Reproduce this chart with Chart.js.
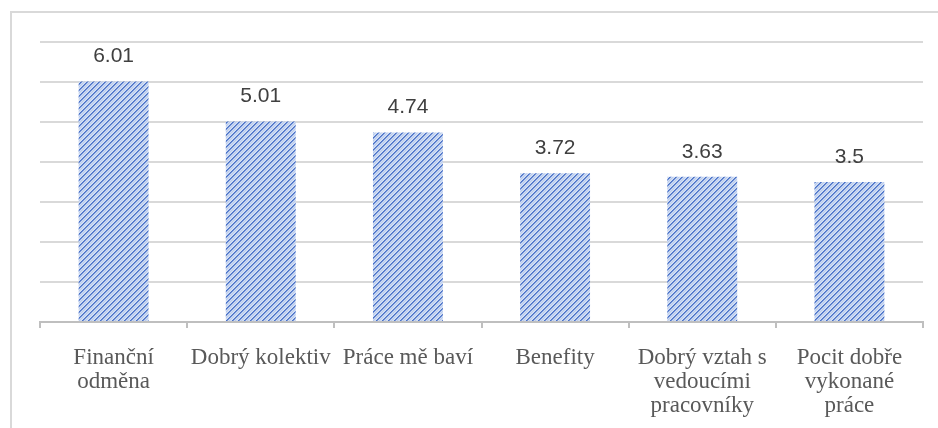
<!DOCTYPE html>
<html>
<head>
<meta charset="utf-8">
<script src="https://cdn.jsdelivr.net/npm/chart.js@4/dist/chart.umd.min.js"></script>
<style>
  html, body { margin: 0; padding: 0; background: #ffffff; }
  #wrap { position: relative; width: 938px; height: 428px; overflow: hidden; }
  #frame { position: absolute; left: 10px; top: 11px; width: 1000px; height: 1000px;
           border-left: 2px solid #d9d9d9; border-top: 2px solid #d9d9d9; box-sizing: border-box; }
  canvas { position: absolute; left: 0; top: 0; }
</style>
</head>
<body>
<div id="wrap">
  <div id="frame"></div>
  <canvas id="c" width="938" height="428"></canvas>
</div>
<script>
const categories = [
  ["Finanční", "odměna"],
  ["Dobrý kolektiv"],
  ["Práce mě baví"],
  ["Benefity"],
  ["Dobrý vztah s", "vedoucími", "pracovníky"],
  ["Pocit dobře", "vykonané", "práce"]
];
const values = [6.01, 5.01, 4.74, 3.72, 3.63, 3.5];
const valueLabels = ["6.01", "5.01", "4.74", "3.72", "3.63", "3.5"];
const yMax = 7;
const yStep = 1;

function makePattern() {
  const n = 6;
  const t = document.createElement('canvas');
  t.width = n; t.height = n;
  const g = t.getContext('2d');
  g.fillStyle = '#d0dcf2';
  g.fillRect(0, 0, n, n);
  for (let y = 0; y < n; y++) {
    for (let x = 0; x < n; x++) {
      const k = (x + y) % n;
      if (k === 0) { g.fillStyle = '#4a72c8'; g.fillRect(x, y, 1, 1); }
      else if (k === 1) { g.fillStyle = '#7595d8'; g.fillRect(x, y, 1, 1); }
      else if (k === 3) { g.fillStyle = '#b8cbee'; g.fillRect(x, y, 1, 1); }
    }
  }
  return document.getElementById('c').getContext('2d').createPattern(t, 'repeat');
}

const labelPlugin = {
  id: 'valueLabels',
  afterDatasetsDraw(chart) {
    const ctx = chart.ctx;
    const meta = chart.getDatasetMeta(0);
    ctx.save();
    ctx.font = '21px "Liberation Sans", Arial, sans-serif';
    ctx.fillStyle = '#404040';
    ctx.textAlign = 'center';
    ctx.textBaseline = 'middle';
    meta.data.forEach((bar, i) => {
      ctx.fillText(valueLabels[i], bar.x, bar.y - 25);
    });
    ctx.restore();
  }
};

new Chart(document.getElementById('c'), {
  type: 'bar',
  data: {
    labels: categories,
    datasets: [{
      data: values,
      backgroundColor: makePattern(),
      borderWidth: 0,
      barPercentage: 0.95,
      categoryPercentage: 0.5
    }]
  },
  options: {
    responsive: false,
    animation: false,
    events: [],
    layout: { padding: { left: 40, right: 15, top: 42, bottom: 0 } },
    plugins: { legend: { display: false }, tooltip: { enabled: false } },
    scales: {
      x: {
        grid: { display: true, offset: true, drawOnChartArea: false, drawTicks: true,
                tickLength: 6, color: '#bfbfbf', lineWidth: 2 },
        border: { display: true, color: '#bfbfbf', width: 2 },
        ticks: { color: '#595959', padding: 18, maxRotation: 0, autoSkip: false,
                 font: { family: '"Liberation Serif", "Times New Roman", serif', size: 23, lineHeight: 1.04 } },
        afterFit(scale) { scale.height = 106; }
      },
      y: {
        min: 0, max: yMax,
        ticks: { display: false, stepSize: yStep },
        grid: { color: '#d9d9d9', lineWidth: 2, drawTicks: false },
        border: { display: false },
        afterFit(scale) { scale.width = 0; }
      }
    }
  },
  plugins: [labelPlugin]
});
</script>
</body>
</html>
